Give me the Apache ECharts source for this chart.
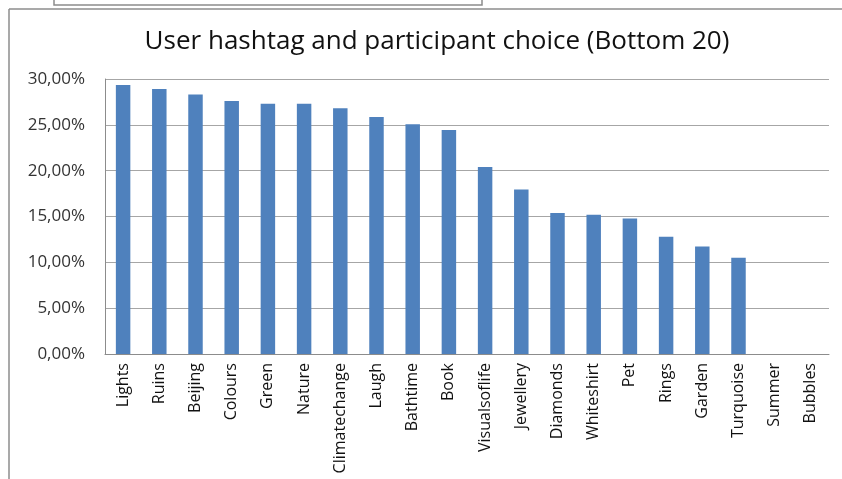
<!DOCTYPE html>
<html>
<head>
<meta charset="utf-8">
<script src="https://cdn.jsdelivr.net/npm/echarts@6/dist/echarts.min.js"></script>
<style>html,body{margin:0;padding:0;background:#fff;}#c{width:842px;height:479px;}</style>
</head>
<body>
<div id="c"></div>
<script>
var categories = ["Lights","Ruins","Beijing","Colours","Green","Nature","Climatechange","Laugh","Bathtime","Book","Visualsoflife","Jewellery","Diamonds","Whiteshirt","Pet","Rings","Garden","Turquoise","Summer","Bubbles"];
var values = [29.35,28.9,28.3,27.6,27.3,27.3,26.8,25.86,25.06,24.45,20.4,17.94,15.37,15.18,14.78,12.79,11.73,10.5,0,0];
var titleText = "User hashtag and participant choice (Bottom 20)";

var chart = echarts.init(document.getElementById('c'));
chart.setOption({
  animation: false,
  backgroundColor: '#fff',
  title: {
    text: titleText,
    left: 432, top: 24, textAlign: 'center',
    textStyle: {fontFamily: 'Open Sans', fontSize: 26, fontWeight: 'normal', color: '#111'}
  },
  graphic: [
    {type: 'line', shape: {x1: 9, y1: 9, x2: 842, y2: 9}, style: {stroke: '#8c8c8c', lineWidth: 1.5}},
    {type: 'line', shape: {x1: 9, y1: 9, x2: 9, y2: 479}, style: {stroke: '#8c8c8c', lineWidth: 1.5}},
    {type: 'rect', shape: {x: 54, y: -2, width: 428, height: 7}, style: {fill: '#fff', stroke: '#8c8c8c', lineWidth: 1.5}}
  ],
  grid: {left: 105, right: 13, top: 79, bottom: 125},
  xAxis: {
    type: 'category',
    data: categories,
    axisLine: {show: true, lineStyle: {color: '#8c8c8c'}},
    axisTick: {show: false},
    axisLabel: {rotate: 90, interval: 0, margin: 9, fontFamily: 'Open Sans', fontSize: 16, color: '#111'}
  },
  yAxis: {
    type: 'value', min: 0, max: 30, interval: 5,
    axisLine: {show: true, lineStyle: {color: '#8c8c8c'}},
    axisTick: {show: false},
    splitLine: {lineStyle: {color: '#a6a6a6'}},
    axisLabel: {margin: 20, fontFamily: 'Open Sans', fontSize: 17, color: '#333',
      formatter: function (v) { return v.toFixed(2).replace('.', ',') + '%'; }}
  },
  series: [{
    type: 'bar', data: values, barWidth: '40%',
    itemStyle: {color: '#4F81BD'}
  }]
});
</script>
</body>
</html>
